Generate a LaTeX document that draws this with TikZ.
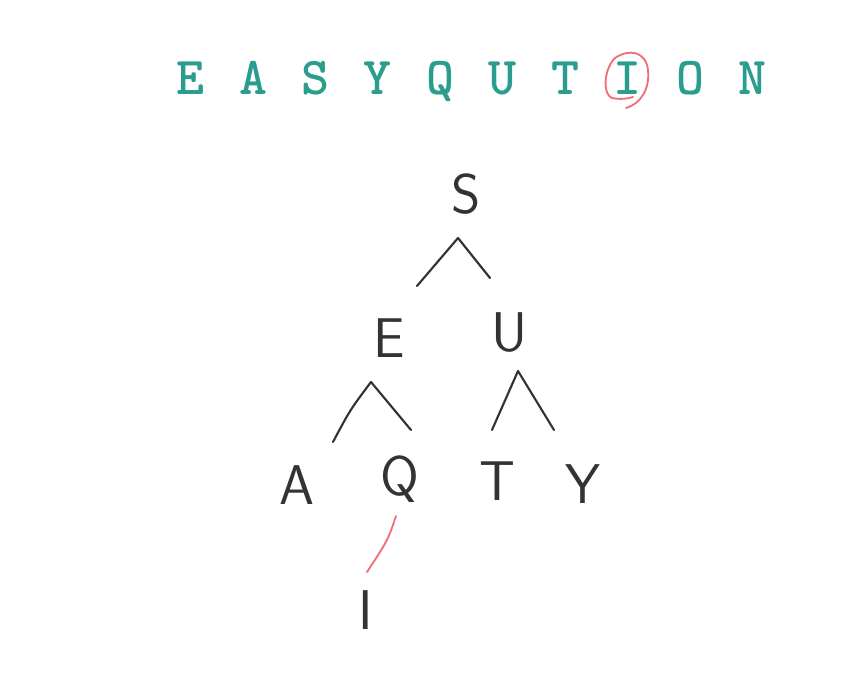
\documentclass[tikz,border=0pt]{standalone}
\usepackage{fontspec}
\definecolor{teal1}{HTML}{2A9D8F}
\definecolor{ink}{HTML}{333333}
\definecolor{redink}{HTML}{F07078}
\begin{document}
\begin{tikzpicture}[x=0.75pt,y=-0.75pt,
  top/.style={text=teal1,font=\ttfamily\bfseries\fontsize{40}{40}\selectfont,inner sep=0pt,anchor=base},
  hand/.style={text=ink,font=\sffamily\fontsize{42}{42}\selectfont,inner sep=0pt,anchor=center},
  branch/.style={draw=ink,line width=1.6pt,line cap=round,line join=round},
  redline/.style={draw=redink,line width=1.4pt,line cap=round}]
\useasboundingbox (0,0) rectangle (865,684);
% top word
\foreach \ch/\x [count=\i] in {E/190,A/253,S/315,Y/377,Q/440,U/502,T/565,I/627,O/690,N/752}
  \node[top] (t\i) at (\x,95) {\ch};
\draw[redline] (626,108) .. controls (640,104) and (650,90) .. (648,70)
  .. controls (646,52) and (630,48) .. (615,58)
  .. controls (603,70) and (603,95) .. (612,98)
  .. controls (622,100) and (630,98) .. (633,97);
% tree nodes
\node[hand] (S) at (466,194) {S};
\node[hand] (E) at (389,338) {E};
\node[hand] (U) at (510,333) {U};
\node[hand] (A) at (297,485) {A};
\node[hand] (Q) at (400,479) {Q};
\node[hand] (T) at (497,481) {T};
\node[hand] (Y) at (583,484) {Y};
\node[hand] (I) at (366,610) {I};
% branch coordinates
\coordinate (s1) at (417,286);
\coordinate (s0) at (458,238);
\coordinate (s2) at (490,278);
\coordinate (e1) at (333,442);
\coordinate (e0) at (371,382);
\coordinate (e2) at (411,430);
\coordinate (u1) at (492,430);
\coordinate (u0) at (518,371);
\coordinate (u2) at (554,430);
\coordinate (q0) at (396,516);
\coordinate (q1) at (367,572);
\draw[branch] (s1) -- (s0) -- (s2);
\draw[branch] (e1) .. controls (350,410) .. (e0) -- (e2);
\draw[branch] (u1) .. controls (505,400) .. (u0) -- (u2);
\draw[redline] (q0) .. controls (388,540) .. (q1);
\end{tikzpicture}
\end{document}
